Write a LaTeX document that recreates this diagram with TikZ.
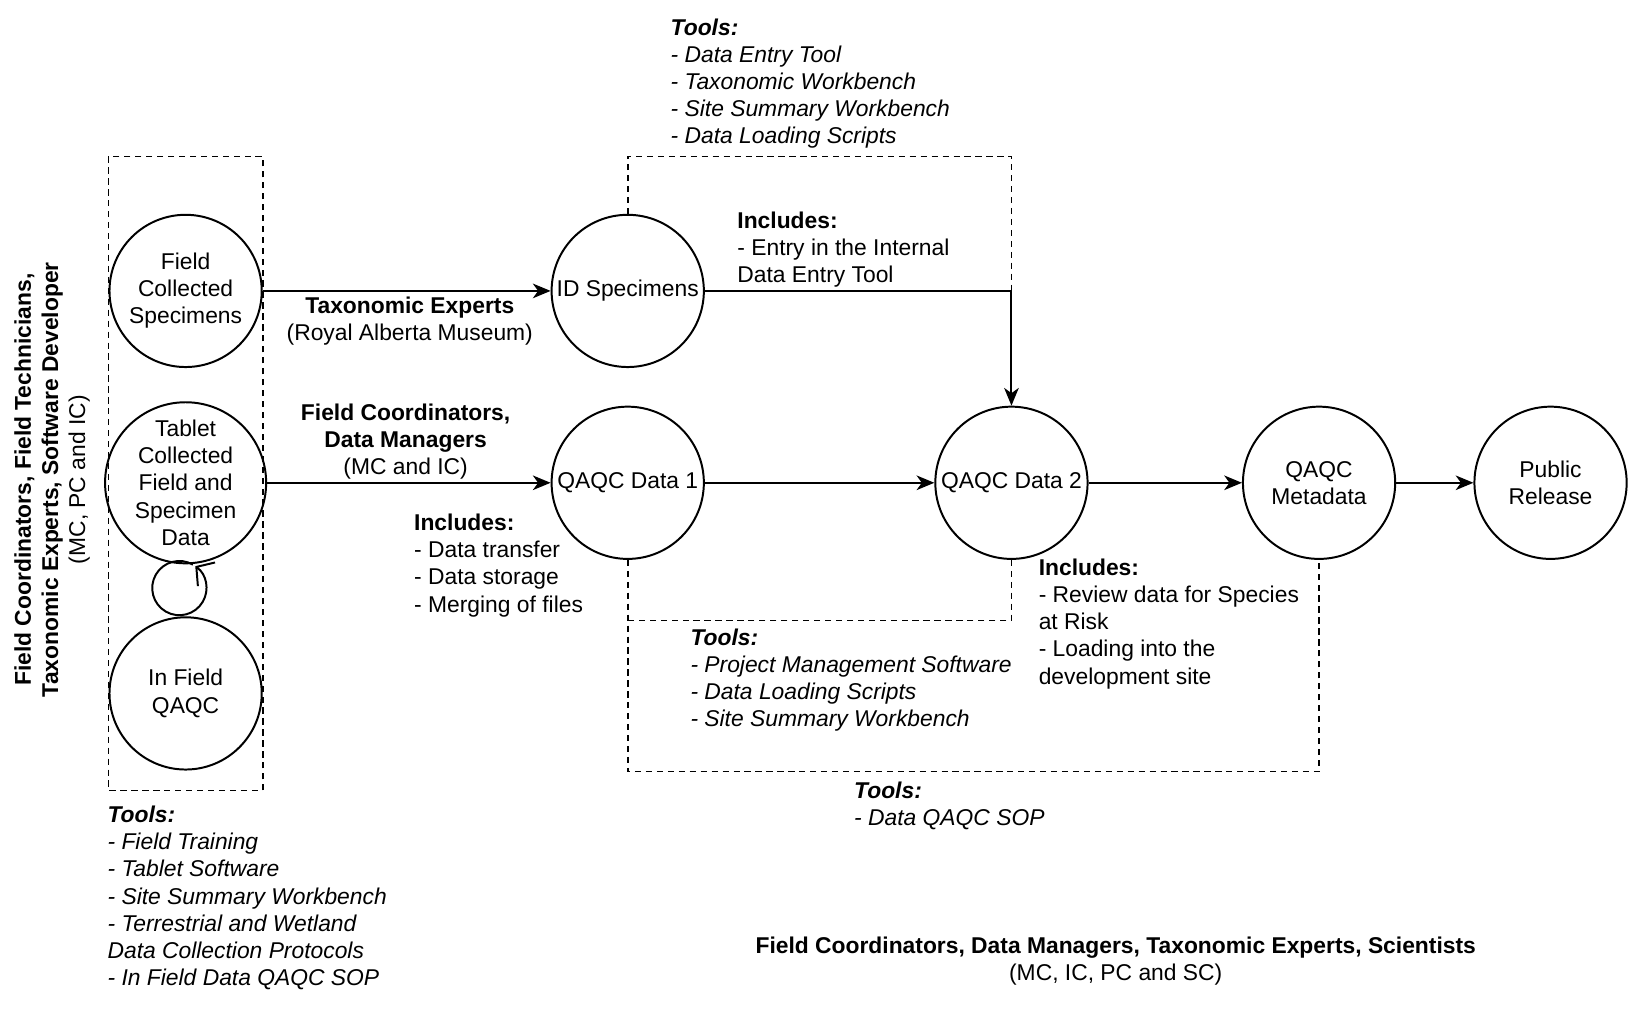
\documentclass[tikz,border=0pt]{standalone}
\usepackage{fontspec}
\setmainfont{Liberation Sans}
\usetikzlibrary{arrows.meta}
\newcommand{\diagfont}{\fontsize{21.9}{26}\selectfont}

\begin{document}
\begin{tikzpicture}[x=1pt,y=-1pt,font=\diagfont,
    stage/.style={draw,circle,line width=1.9pt,minimum size=146pt,inner sep=0pt,align=center},
    flow/.style={line width=1.9pt,-{Stealth[length=17pt,width=14pt,inset=5pt]}},
    group/.style={line width=1.6pt,dash pattern=on 6pt off 4.5pt},
    note/.style={inner sep=0pt,align=left,anchor=base west},
    tools/.style={note,font=\diagfont\itshape},
    who/.style={inner sep=0pt,align=center,anchor=base}]
  \useasboundingbox (0,0) rectangle (1568,984);

  % stages
  \node[stage] (fcs) at (178,279) {Field\\Collected\\Specimens};
  \node[stage] (tab) at (178,463) {Tablet\\Collected\\Field and\\Specimen\\Data};
  \node[stage] (ifq) at (178,665) {In Field\\QAQC};
  \node[stage] (ids) at (602,279) {ID Specimens};
  \node[stage] (qd1) at (602,463) {QAQC Data 1};
  \node[stage] (qd2) at (970,463) {QAQC Data 2};
  \node[stage] (qmd) at (1265,463) {QAQC\\Metadata};
  \node[stage] (pub) at (1487,463) {Public\\Release};

  % dashed groups
  \draw[group] (104,150) rectangle (252,758);
  \draw[group] (ids.north) -- (602,150) -- (970,150) -- (970,279);
  \draw[group] (qd1.south) -- (602,740) -- (1265,740) -- (qmd.south);
  \draw[group] (qd2.south) -- (970,595) -- (602,595);

  % connectors
  \draw[flow] (fcs) -- (ids);
  \draw[flow] (tab) -- (qd1);
  \draw[flow] (qd1) -- (qd2);
  \draw[flow] (qd2) -- (qmd);
  \draw[flow] (qmd) -- (pub);
  \draw[flow] (ids) -| (qd2);

  % in field loop
  \coordinate (loop) at (172,564);
  \draw[line width=1.9pt,-{Straight Barb[length=12pt,width=28pt,line width=1.9pt]}]
    ([shift={(300:26)}]loop) arc[start angle=300,end angle=-54,radius=26];

  % labels (anchored on the last baseline)
  \node[who,rotate=90,anchor=center] (crew) at (50,460)
    {\textbf{Field Coordinators, Field Technicians,}\\\textbf{Taxonomic Experts, Software Developer}\\(MC, PC and IC)};
  \node[who] (taxo) at (393,327) {\textbf{Taxonomic Experts}\\(Royal Alberta Museum)};
  \node[who] (coord) at (389,455) {\textbf{Field Coordinators,}\\\textbf{Data Managers}\\(MC and IC)};
  \node[who] (team) at (1070,940)
    {\textbf{Field Coordinators, Data Managers, Taxonomic Experts, Scientists}\\(MC, IC, PC and SC)};

  \node[note] (inc1) at (707,271) {\textbf{Includes:}\\- Entry in the Internal\\Data Entry Tool};
  \node[note] (inc2) at (397,587) {\textbf{Includes:}\\- Data transfer\\- Data storage\\- Merging of files};
  \node[note] (inc3) at (996,656) {\textbf{Includes:}\\- Review data for Species\\at Risk\\- Loading into the\\development site};

  \node[tools] (tl1) at (643,138) {\textbf{Tools:}\\- Data Entry Tool\\- Taxonomic Workbench\\- Site Summary Workbench\\- Data Loading Scripts};
  \node[tools] (tl2) at (662,697) {\textbf{Tools:}\\- Project Management Software\\- Data Loading Scripts\\- Site Summary Workbench};
  \node[tools] (tl3) at (819,792) {\textbf{Tools:}\\- Data QAQC SOP};
  \node[tools] (tl4) at (103,945) {\textbf{Tools:}\\- Field Training\\- Tablet Software\\- Site Summary Workbench\\- Terrestrial and Wetland\\Data Collection Protocols\\- In Field Data QAQC SOP};
\end{tikzpicture}
\end{document}
